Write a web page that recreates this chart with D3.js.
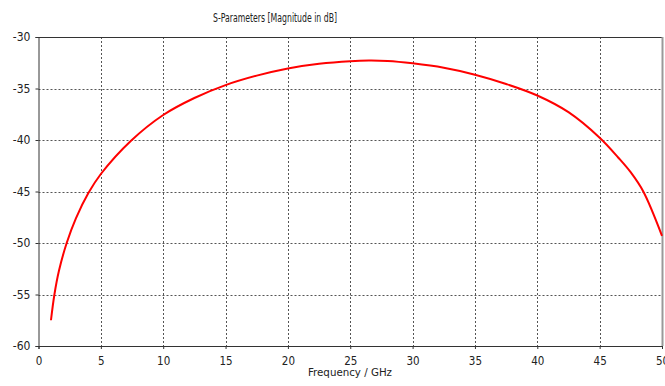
<!DOCTYPE html>
<html><head><meta charset="utf-8">
<script src="https://cdn.jsdelivr.net/npm/d3@7/dist/d3.min.js"></script>
<style>
html,body{margin:0;padding:0;background:#fff;}
svg{display:block;}
text{font-family:"DejaVu Sans Condensed","Liberation Sans Narrow","Liberation Sans",sans-serif;fill:#222;}
</style></head>
<body><svg id="c" width="665" height="386"></svg>
<script>
const title = "S-Parameters [Magnitude in dB]";
const xLabel = "Frequency / GHz";
const xTicks = [0,5,10,15,20,25,30,35,40,45,50];
const yTicks = [-30,-35,-40,-45,-50,-55,-60];
const freq = [1,1.27,1.64,2.26,3,4,5,7.42,10,12.5,15,17.5,20,22.5,25,26.5,28,30,32.5,35,37.5,40,42.5,45,46.5,47.5,48.5,50];
const s11  = [-57.5,-55.05,-52.7,-50,-47.6,-45.15,-43.3,-40.07,-37.57,-35.92,-34.67,-33.75,-33.05,-32.6,-32.35,-32.29,-32.33,-32.56,-32.99,-33.66,-34.56,-35.68,-37.3,-39.78,-41.72,-43.15,-45,-49.3];

const svg = d3.select("#c");
const L=38.5, R=662, T=37, B=346;
const x = d3.scaleLinear().domain([0,50]).range([L,R]);
const y = d3.scaleLinear().domain([-60,-30]).range([B,T]);

// grid
const g = svg.append("g");
g.selectAll(".vg").data(xTicks.filter(d=>d>0&&d<50)).enter().append("line")
  .attr("x1",d=>Math.round(x(d))+0.5).attr("x2",d=>Math.round(x(d))+0.5)
  .attr("y1",T).attr("y2",B).attr("stroke","#555").attr("stroke-dasharray","2,2");
g.selectAll(".hg").data(yTicks.filter(d=>d>-60&&d<-30)).enter().append("line")
  .attr("y1",d=>Math.round(y(d))+0.5).attr("y2",d=>Math.round(y(d))+0.5)
  .attr("x1",L).attr("x2",R).attr("stroke","#555").attr("stroke-dasharray","2,2");

// frame
svg.append("line").attr("x1",L).attr("x2",R).attr("y1",T+0.5).attr("y2",T+0.5).attr("stroke","#333");
svg.append("line").attr("x1",R+0.5).attr("x2",R+0.5).attr("y1",T).attr("y2",B).attr("stroke","#999").attr("stroke-width",2);

// axes
const fmt = d => String(d);
const xAxis = d3.axisBottom(x).tickValues(xTicks).tickFormat(fmt).tickSize(3).tickPadding(8);
const yAxis = d3.axisLeft(y).tickValues(yTicks).tickFormat(fmt).tickSize(3).tickPadding(5);
const gx = svg.append("g").attr("transform",`translate(0,${B})`).call(xAxis);
const gy = svg.append("g").attr("transform",`translate(${L},0)`).call(yAxis);
[gx,gy].forEach(a=>{
  a.attr("font-family",null);
  a.select(".domain").attr("stroke","#333");
  a.selectAll(".tick line").attr("stroke","#333");
  a.selectAll("text").style("font-size","12px").attr("fill","#222");
});
gx.selectAll("text").style("font-size","11.5px");

// curve
const line = d3.line().x((d,i)=>x(freq[i])).y(d=>y(d)).curve(d3.curveCatmullRom.alpha(0.5));
svg.append("path").datum(s11).attr("d",line).attr("fill","none").attr("stroke","#ff0000").attr("stroke-width",2);

// labels
svg.append("text").attr("x",275).attr("y",22).attr("text-anchor","middle").style("font-size","12px")
  .attr("textLength",124).attr("lengthAdjust","spacingAndGlyphs").text(title);
svg.append("text").attr("x",350).attr("y",376).attr("text-anchor","middle").style("font-size","11px")
  .attr("textLength",84).attr("lengthAdjust","spacingAndGlyphs").text(xLabel);
</script></body></html>
